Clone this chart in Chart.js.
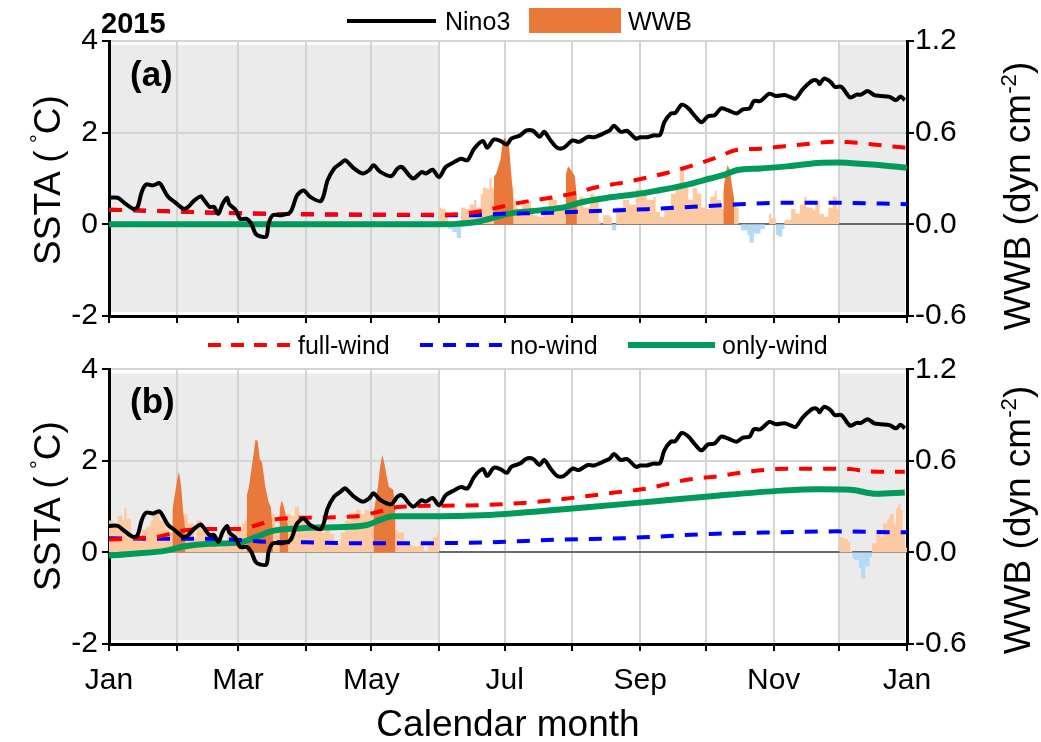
<!DOCTYPE html>
<html>
<head>
<meta charset="utf-8">
<script src="https://cdn.jsdelivr.net/npm/chart.js@4.4.1/dist/chart.umd.min.js"></script>
<style>
html,body{margin:0;padding:0;background:#fff;}
#wrap{position:relative;width:1041px;height:742px;overflow:hidden;font-family:"Liberation Sans",Arial,Helvetica,sans-serif;color:#000;}
canvas{position:absolute;left:0;}
#cA{top:0;}
#cB{top:330px;}
.t{position:absolute;white-space:nowrap;line-height:1;}
.rot{transform:translate(-50%,-50%) rotate(-90deg);}
.sup{font-size:0.6em;position:relative;top:-0.65em;}
svg text{font-family:"Liberation Sans",Arial,Helvetica,sans-serif;font-size:25px;fill:#000;}
</style>
</head>
<body>
<div id="wrap">
  <canvas id="cA" width="1041" height="330"></canvas>
  <canvas id="cB" width="1041" height="412"></canvas>

  <svg style="position:absolute;left:0;top:0" width="1041" height="40">
    <line x1="347" y1="21" x2="436" y2="21" stroke="#000" stroke-width="4"/>
    <text x="445" y="30">Nino3</text>
    <rect x="529" y="8" width="92" height="25" fill="#e8793b"/>
    <text x="628" y="30">WWB</text>
  </svg>
  <svg style="position:absolute;left:0;top:330px" width="1041" height="32">
    <line x1="208" y1="15" x2="291" y2="15" stroke="#ff0000" stroke-width="4" stroke-dasharray="13 10"/>
    <text x="298" y="24">full-wind</text>
    <line x1="420" y1="15" x2="503" y2="15" stroke="#0000ff" stroke-width="4" stroke-dasharray="13 10"/>
    <text x="510" y="24">no-wind</text>
    <line x1="628" y1="15" x2="715" y2="15" stroke="#009b5b" stroke-width="6"/>
    <text x="722" y="24">only-wind</text>
  </svg>

  <div class="t" style="left:101px;top:9px;font-size:29px;font-weight:bold;">2015</div>
  <div class="t" style="left:130px;top:56px;font-size:35px;font-weight:bold;">(a)</div>
  <div class="t" style="left:130px;top:383px;font-size:35px;font-weight:bold;">(b)</div>

  <div class="t rot" style="left:47px;top:180px;font-size:37px;">SSTA (&thinsp;<span class="sup">°</span>C)</div>
  <div class="t rot" style="left:47px;top:506px;font-size:37px;">SSTA (&thinsp;<span class="sup">°</span>C)</div>
  <div class="t rot" style="left:1017px;top:196px;font-size:37px;">WWB (dyn cm<span class="sup">-2</span>)</div>
  <div class="t rot" style="left:1017px;top:520px;font-size:37px;">WWB (dyn cm<span class="sup">-2</span>)</div>
</div>

<script>
// ---- calendar (day of year, 2015) ----
const monthStarts = [0, 31, 59, 90, 120, 151, 181, 212, 243, 273, 304, 334, 365];
const monthNames  = ['Jan','Feb','Mar','Apr','May','Jun','Jul','Aug','Sep','Oct','Nov','Dec','Jan'];
const sstaTicks = [-2, 0, 2, 4];
const wwbTicks  = [-0.6, 0, 0.6, 1.2];
// periods without wind forcing in panel (a) (shaded): Jan-May and Dec
const shadedSpans = [[0, 151], [334, 365]];

// ---- observed Nino3 SSTA (°C), [day, value] ----
const nino3 = [[0,0.58],[4,0.58],[7,0.47],[11,0.34],[13,0.37],[15,0.71],[17,0.87],[20,0.85],[23,0.90],[24,0.85],
  [27,0.60],[30,0.49],[34,0.34],[36,0.37],[39,0.52],[42,0.61],[43,0.56],[46,0.38],[48,0.38],[50,0.23],
  [52,0.45],[54,0.58],[55,0.44],[58,0.31],[60,0.12],[63,0.12],[65,0.02],[67,-0.20],[69,-0.26],[72,-0.26],
  [73,0.02],[75,0.20],[79,0.20],[83,0.27],[86,0.63],[89,0.74],[92,0.60],[97,0.51],[100,0.96],[103,1.22],
  [106,1.33],[108,1.40],[112,1.22],[116,1.11],[119,1.18],[121,1.29],[124,1.15],[129,1.05],[132,1.22],[134,1.25],
  [139,1.00],[143,1.14],[145,1.11],[148,1.19],[151,1.03],[154,1.25],[158,1.36],[161,1.43],[164,1.40],[167,1.65],
  [171,1.82],[173,1.67],[176,1.85],[179,1.82],[182,1.74],[184,1.87],[188,1.94],[191,2.05],[194,2.04],[197,1.91],
  [199,2.02],[202,1.83],[205,1.67],[208,1.67],[212,1.83],[215,1.80],[219,1.91],[222,1.90],[226,1.98],[229,2.05],
  [231,2.15],[234,2.02],[237,2.04],[241,1.87],[243,1.90],[246,1.90],[249,1.94],[252,1.95],[254,2.23],[257,2.42],
  [259,2.43],[262,2.61],[265,2.53],[268,2.36],[271,2.23],[274,2.36],[277,2.38],[280,2.53],[283,2.49],[287,2.42],
  [290,2.51],[293,2.53],[295,2.69],[298,2.69],[302,2.85],[305,2.80],[309,2.82],[312,2.77],[314,2.74],[317,2.93],
  [319,3.03],[322,3.14],[324,3.13],[325,3.06],[327,3.18],[330,3.11],[332,3.00],[335,3.00],[339,2.77],[342,2.83],
  [344,2.83],[347,2.91],[350,2.82],[353,2.80],[357,2.78],[360,2.71],[362,2.79],[364,2.71]];

// ---- panel (a): wind forcing Jun-Nov ----
const fullWindA = [[0,0.32],[30,0.28],[60,0.24],[90,0.22],[120,0.21],[150,0.21],[159,0.22],[168,0.27],[180,0.39],
  [190,0.49],[202,0.58],[212,0.67],[223,0.81],[235,0.91],[246,1.02],[255,1.12],[266,1.27],[278,1.46],[287,1.62],
  [298,1.65],[308,1.70],[321,1.76],[331,1.80],[342,1.78],[354,1.72],[365,1.67]];
const noWindA = [[0,0.32],[30,0.28],[60,0.24],[90,0.22],[120,0.21],[150,0.20],[168,0.20],[180,0.23],[202,0.25],
  [223,0.29],[246,0.33],[278,0.41],[308,0.47],[331,0.47],[365,0.44]];
const onlyWindA = [[0,0],[150,0],[159,0.01],[168,0.05],[174,0.12],[180,0.20],[185,0.25],[198,0.31],[209,0.38],
  [215,0.47],[228,0.58],[240,0.65],[250,0.73],[263,0.85],[275,1.00],[282,1.09],[287,1.18],[298,1.22],[311,1.27],
  [324,1.34],[333,1.35],[347,1.31],[365,1.24]];
const windA = [[151,0.11],[152,0.10],[154,0.08],[155,-0.03],[157,-0.05],[159,-0.09],[161,0.11],[163,0.10],[165,0.13],
  [167,0.16],[168,0.11],[170,0.20],[171,0.24],[173,0.23],[174,0.30],[175,0.24],[176,0.22],[180,0.25],[185,0.15],
  [186,0.11],[187,0.08],[189,0.16],[191,0.15],[193,0.11],[194,0.06],[196,0.05],[199,0.11],[201,0.17],[203,0.16],
  [205,0.09],[207,0.11],[209,0.15],[213,0.15],[215,0.18],[217,0.11],[220,0.20],[222,0.16],[224,0.02],[225,0.00],
  [226,0.06],[229,0.05],[230,-0.04],[232,0.11],[235,0.16],[238,0.13],[241,0.23],[244,0.20],[246,0.16],[249,0.18],
  [250,0.08],[252,0.05],[254,0.11],[257,0.20],[259,0.24],[261,0.35],[263,0.24],[265,0.16],[267,0.24],[269,0.20],
  [271,0.11],[273,0.10],[275,0.18],[277,0.22],[278,0.16],[280,0.10],[282,0.15],[286,0.15],[287,0.11],[288,0.00],
  [289,-0.04],[292,-0.07],[293,-0.12],[295,-0.06],[298,-0.03],[300,0.00],[302,0.07],[303,0.04],[305,-0.07],[306,-0.08],
  [308,-0.03],[309,0.03],[312,0.10],[314,0.07],[316,0.13],[318,0.18],[319,0.11],[322,0.09],[323,0.15],[325,0.07],
  [327,0.05],[329,0.11],[331,0.18],[333,0.10],[334,0.10]];
const wwbEventsA = [[176,0.31],[177,0.33],[179,0.42],[180,0.53],[181,0.57],[183,0.51],[184,0.33],[185,0.16],[186,null],
  [209,0.33],[210,0.38],[211,0.36],[212,0.34],[213,0.32],[214,0.18],[215,null],
  [281,0.22],[282,0.33],[283,0.39],[284,0.35],[285,0.25],[286,0.16]];

// ---- panel (b): wind forcing Jan-May and Dec ----
const fullWindB = [[0,0.28],[11,0.31],[23,0.35],[34,0.48],[46,0.51],[58,0.51],[68,0.60],[75,0.71],[84,0.75],[90,0.76],
  [103,0.77],[115,0.80],[124,0.90],[132,0.99],[152,1.02],[174,1.04],[197,1.11],[220,1.24],[235,1.33],[248,1.41],
  [254,1.48],[266,1.60],[278,1.66],[293,1.77],[311,1.83],[330,1.83],[339,1.82],[348,1.77],[364,1.76]];
const noWindB = [[0,0.31],[23,0.30],[37,0.30],[57,0.28],[69,0.24],[90,0.22],[115,0.20],[132,0.20],[174,0.22],
  [205,0.28],[235,0.31],[248,0.34],[278,0.41],[308,0.44],[333,0.46],[360,0.44],[365,0.44]];
const onlyWindB = [[0,-0.07],[11,-0.03],[26,0.04],[34,0.13],[46,0.19],[60,0.22],[68,0.35],[74,0.46],[88,0.53],
  [103,0.55],[118,0.60],[124,0.71],[130,0.79],[144,0.79],[174,0.82],[197,0.90],[220,0.99],[250,1.12],[278,1.24],
  [308,1.35],[324,1.38],[339,1.37],[351,1.28],[364,1.31]];
const windB = [[0,0.21],[2,0.19],[4,0.24],[6,0.21],[7,0.29],[8,0.22],[10,0.09],[13,0.08],[15,0.15],[17,0.17],
  [19,0.21],[20,0.26],[23,0.21],[26,0.15],[28,0.13],[30,0.25],[36,0.19],[39,0.10],[40,0.21],[42,0.15],[45,0.12],
  [47,0.08],[49,0.03],[52,0.05],[54,0.13],[56,0.09],[58,0.15],[61,0.19],[62,0.21],[63,0.25],[76,0.17],[78,0.25],
  [83,0.24],[85,0.30],[87,0.24],[90,0.17],[92,0.17],[94,0.15],[97,0.13],[99,0.15],[101,0.12],[103,0.06],[106,0.13],
  [108,0.21],[110,0.26],[113,0.28],[115,0.25],[117,0.28],[119,0.24],[121,0.25],[131,0.15],[132,0.13],[135,0.07],
  [137,0.05],[139,0.04],[142,0.07],[144,0.01],[146,0.05],[148,0.10],[150,0.12],[151,0.12],[152,null],
  [334,0.10],[336,0.09],[338,0.07],[339,0.01],[340,-0.04],[341,-0.05],[343,-0.10],[344,-0.17],[346,-0.09],[348,-0.03],
  [349,0.06],[351,0.13],[353,0.10],[354,0.19],[356,0.22],[357,0.25],[359,0.19],[360,0.29],[361,0.32],[362,0.28],
  [363,0.13],[364,0.03],[365,0.03]];
const wwbEventsB = [[29,0.28],[30,0.37],[31,0.46],[32,0.53],[33,0.43],[34,0.26],[35,0.13],[36,null],
  [63,0.37],[64,0.43],[66,0.63],[67,0.74],[68,0.73],[69,0.61],[70,0.59],[71.5,0.43],[73,0.33],[74,0.30],[75,0.13],[76,null],
  [78,0.28],[79,0.34],[80,0.30],[82,0.17],[83,null],
  [121,0.26],[123,0.43],[124,0.56],[125,0.64],[126,0.58],[127,0.50],[128,0.43],[130,0.41],[131,0.28]];

// ---- styling ----
const FONT = '"Liberation Sans", Arial, Helvetica, sans-serif';
const C = {
  shade: '#ebebeb', grid: '#d4d4d4', zero: '#6b6b6b',
  windPos: '#fdc9a0', windNeg: '#b3dbf6', wwb: '#e8793b',
  nino3: '#000000', full: '#ff0000', none: '#0000ff', only: '#009b5b'
};
const pts = a => a.map(([x, y]) => ({x, y}));

// grey background for the unforced periods, under the grid
const shadePlugin = {
  id: 'shade',
  beforeDraw(chart) {
    const {ctx, chartArea: a, scales: {x}} = chart;
    ctx.save();
    ctx.fillStyle = C.shade;
    shadedSpans.forEach(([d0, d1]) => {
      const x0 = Math.max(x.getPixelForValue(d0), a.left + 2);
      const x1 = Math.min(x.getPixelForValue(d1), a.right - 2);
      ctx.fillRect(x0, a.top + 4, x1 - x0, a.bottom - a.top - 8);
    });
    ctx.restore();
  }
};

// fixed axis box sizes; the plot area edges are set by the padding/box sizes only
const fixWidth = w => s => { s.width = w; s.paddingTop = 0; s.paddingBottom = 0; };

function makePanel(canvasId, p) {
  const line = (data, color, width, dash, order, smooth) => ({
    data: pts(data), yAxisID: 'y', borderColor: color, borderWidth: width, borderDash: dash,
    pointRadius: 0, fill: false, order,
    ...(smooth ? {cubicInterpolationMode: 'monotone'} : {tension: 0.3})
  });
  const datasets = [
    {data: pts(p.wind), yAxisID: 'y2', stepped: true, borderWidth: 0, pointRadius: 0, spanGaps: false,
     fill: {target: 'origin', above: C.windPos, below: C.windNeg}, order: 6},
    {data: pts(p.events), yAxisID: 'y2', borderWidth: 0, pointRadius: 0, spanGaps: false, tension: 0,
     fill: {target: 'origin', above: C.wwb, below: C.wwb}, order: 5},
    line(p.only, C.only, 6, [], 3, true),
    line(p.none, C.none, 4, [13, 11], 2, true),
    line(p.full, C.full, 4, [13, 11], 1, true),
    line(nino3, C.nino3, 4, [], 0, false)
  ];
  const tickFont = {family: FONT, size: 30};
  const gridBase = {tickColor: '#000', tickLength: 7, tickWidth: 2, lineWidth: 2};
  return new Chart(document.getElementById(canvasId), {
    type: 'line',
    data: {datasets},
    plugins: [shadePlugin],
    options: {
      responsive: false, animation: false, events: [],
      layout: {autoPadding: false, padding: {top: p.padTop, left: 0, right: 0, bottom: 0}},
      plugins: {legend: {display: false}, tooltip: {enabled: false}},
      scales: {
        x: {
          type: 'linear', min: 0, max: 365,
          afterBuildTicks: s => { s.ticks = monthStarts.map(v => ({value: v})); },
          afterFit: s => { s.height = p.xHeight; },
          ticks: {
            display: p.monthLabels, autoSkip: false, maxRotation: 0, minRotation: 0, padding: 12,
            font: tickFont, color: '#000',
            callback: v => { const i = monthStarts.indexOf(v); return i % 2 === 0 ? monthNames[i] : ''; }
          },
          grid: {...gridBase, color: C.grid},
          border: {color: '#000', width: 3},
          title: {
            display: p.monthLabels, text: 'Calendar month', color: '#000',
            font: {family: FONT, size: 37, lineHeight: 0.9}, padding: {top: 0, bottom: 0}
          }
        },
        y: {
          position: 'left', min: -2, max: 4,
          afterBuildTicks: s => { s.ticks = sstaTicks.map(v => ({value: v})); },
          afterFit: fixWidth(109),
          ticks: {font: tickFont, color: '#000', padding: 4, callback: v => String(v)},
          grid: {...gridBase, color: c => (c.tick && c.tick.value === 0) ? C.zero : C.grid},
          border: {color: '#000', width: 3}
        },
        y2: {
          position: 'right', min: -0.6, max: 1.2,
          afterBuildTicks: s => { s.ticks = wwbTicks.map(v => ({value: v})); },
          afterFit: fixWidth(134),
          ticks: {font: tickFont, color: '#000', padding: 1, callback: v => v.toFixed(1)},
          grid: {...gridBase, drawOnChartArea: false},
          border: {color: '#000', width: 3}
        }
      }
    }
  });
}

makePanel('cA', {wind: windA, events: wwbEventsA, full: fullWindA, none: noWindA, only: onlyWindA,
                 padTop: 41, xHeight: 14, monthLabels: false});
makePanel('cB', {wind: windB, events: wwbEventsB, full: fullWindB, none: noWindB, only: onlyWindB,
                 padTop: 39.3, xHeight: 98, monthLabels: true});
</script>
</body>
</html>
